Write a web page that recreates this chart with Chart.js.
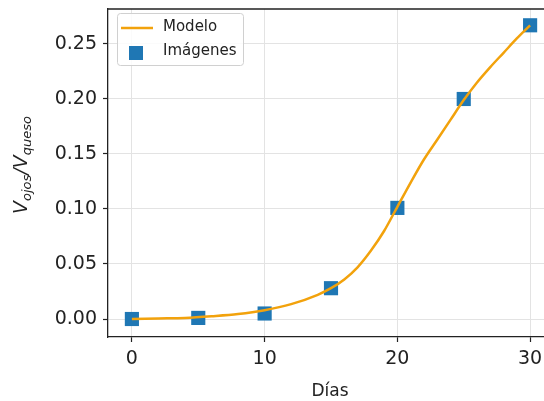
<!DOCTYPE html>
<html>
<head>
<meta charset="utf-8">
<script src="https://cdn.jsdelivr.net/npm/chart.js@4.4.1/dist/chart.umd.min.js"></script>
<style>
html,body{margin:0;padding:0;overflow:hidden;background:#fff;}
#wrap{width:560px;height:401px;}
</style>
</head>
<body>
<div id="wrap"><canvas id="c" width="560" height="401"></canvas></div>
<script>
// Data
const days = [0, 5, 10, 15, 20, 25, 30];
const imagenes = [0.000, 0.001, 0.005, 0.028, 0.101, 0.200, 0.267];
const modelDays = [0, 2, 4, 6, 8, 10, 12, 14, 15, 16, 17, 18, 19, 20, 21, 22, 23, 24, 25, 26, 27, 28, 29, 30];
const modelo = [0.000, 0.0005, 0.001, 0.0025, 0.0045, 0.008, 0.0135, 0.022, 0.028, 0.036, 0.047, 0.062, 0.080, 0.102, 0.124, 0.145, 0.163, 0.181, 0.199, 0.215, 0.229, 0.242, 0.255, 0.267];
const xTicks = [0, 10, 20, 30];
const yTicks = [0.00, 0.05, 0.10, 0.15, 0.20, 0.25];
const labels = {model: 'Modelo', images: 'Imágenes', x: 'Días'};

const ORANGE = '#f2a20c';
const BLUE = '#1f77b4';
const TXT = '#222222';
const GRID = '#e3e3e3';

const extras = {
  id: 'extras',
  afterDraw(chart) {
    const ctx = chart.ctx;
    const a = chart.chartArea;
    ctx.save();
    // top & right spines
    ctx.strokeStyle = TXT;
    ctx.lineWidth = 1.3;
    ctx.beginPath();
    ctx.moveTo(a.left, a.top); ctx.lineTo(a.right, a.top); ctx.lineTo(a.right, a.bottom);
    ctx.stroke();

    // legend
    ctx.fillStyle = 'rgba(255,255,255,0.85)';
    ctx.strokeStyle = '#d0d0d0';
    ctx.lineWidth = 1;
    ctx.beginPath();
    ctx.roundRect(117.5, 13.5, 126, 52, 3);
    ctx.fill(); ctx.stroke();
    ctx.strokeStyle = ORANGE;
    ctx.lineWidth = 2.5;
    ctx.beginPath(); ctx.moveTo(121, 28); ctx.lineTo(153, 28); ctx.stroke();
    ctx.fillStyle = BLUE;
    ctx.fillRect(129, 46, 14, 14);
    ctx.fillStyle = TXT;
    ctx.font = '15px "DejaVu Sans"';
    ctx.textBaseline = 'middle';
    ctx.textAlign = 'left';
    ctx.fillText(labels.model, 163, 27);
    ctx.fillText(labels.images, 163, 51);

    // x title
    ctx.font = '17px "DejaVu Sans"';
    ctx.textAlign = 'center';
    ctx.textBaseline = 'alphabetic';
    ctx.fillText(labels.x, 330, 396);

    // y title with subscripts: V_ojos / V_queso
    const mainF = 'italic 19px "DejaVu Sans"';
    const subF = 'italic 13px "DejaVu Sans"';
    const parts = [['V', mainF, 0], ['ojos', subF, 4], ['/', mainF, 0], ['V', mainF, 0], ['queso', subF, 4]];
    let total = 0;
    parts.forEach(p => { ctx.font = p[1]; total += ctx.measureText(p[0]).width; });
    ctx.translate(27, 165);
    ctx.rotate(-Math.PI / 2);
    ctx.textAlign = 'left';
    let x = -total / 2;
    parts.forEach(p => { ctx.font = p[1]; ctx.fillText(p[0], x, p[2]); x += ctx.measureText(p[0]).width; });
    ctx.restore();
  }
};

new Chart(document.getElementById('c'), {
  type: 'scatter',
  data: {
    datasets: [
      {
        type: 'line',
        label: labels.model,
        data: modelDays.map((d, i) => ({x: d, y: modelo[i]})),
        borderColor: ORANGE, borderWidth: 2.5, pointRadius: 0, fill: false,
        cubicInterpolationMode: 'monotone', order: 0
      },
      {
        type: 'scatter',
        label: labels.images,
        data: days.map((d, i) => ({x: d, y: imagenes[i]})),
        backgroundColor: BLUE, borderColor: BLUE, borderWidth: 0,
        pointStyle: 'rect', pointRadius: 10, order: 1
      }
    ]
  },
  options: {
    responsive: false,
    animation: false,
    devicePixelRatio: 1,
    layout: {autoPadding: false, padding: {top: 9, right: 6, left: 0, bottom: 0}},
    plugins: {legend: {display: false}, tooltip: {enabled: false}},
    scales: {
      x: {
        type: 'linear', min: -1.8, max: 31.8,
        afterFit: s => { s.height = 64; s.paddingLeft = 0; s.paddingRight = 0; s.paddingTop = 0; s.paddingBottom = 0; },
        afterBuildTicks: s => { s.ticks = xTicks.map(v => ({value: v})); },
        ticks: {color: TXT, font: {family: 'DejaVu Sans', size: 19}, padding: 6, callback: v => String(v)},
        grid: {color: GRID, lineWidth: 1, tickColor: TXT, tickLength: 5, tickWidth: 1.2},
        border: {color: TXT, width: 1.3}
      },
      y: {
        type: 'linear', min: -0.01636, max: 0.2818,
        afterFit: s => { s.width = 108; s.paddingLeft = 0; s.paddingRight = 0; s.paddingTop = 0; s.paddingBottom = 0; },
        afterBuildTicks: s => { s.ticks = yTicks.map(v => ({value: v})); },
        ticks: {color: TXT, font: {family: 'DejaVu Sans', size: 19}, padding: 6, callback: v => Number(v).toFixed(2)},
        grid: {color: GRID, lineWidth: 1, tickColor: TXT, tickLength: 5, tickWidth: 1.2},
        border: {color: TXT, width: 1.3}
      }
    }
  },
  plugins: [extras]
});
</script>
</body>
</html>
